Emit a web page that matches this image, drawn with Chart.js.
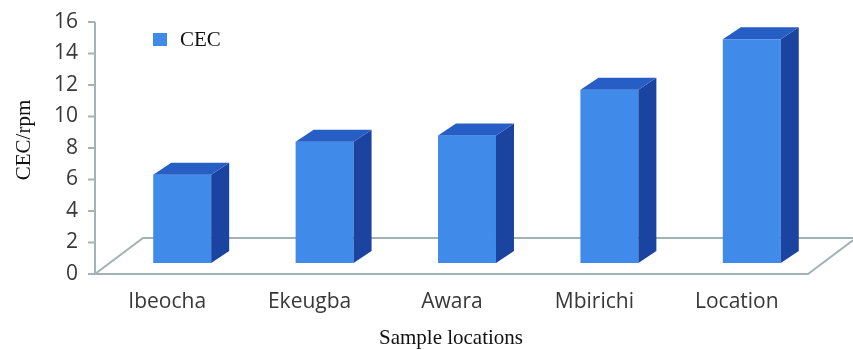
<!DOCTYPE html>
<html>
<head>
<meta charset="utf-8">
<script src="https://cdn.jsdelivr.net/npm/chart.js@4.4.1/dist/chart.umd.min.js"></script>
<style>
  html, body { margin: 0; padding: 0; background: #ffffff; }
  #wrap { width: 853px; height: 350px; position: relative; }
</style>
</head>
<body>
<div id="wrap"><canvas id="c" width="853" height="350"></canvas></div>
<script>
const categories = ['Ibeocha', 'Ekeugba', 'Awara', 'Mbirichi', 'Location'];
const cecValues = [6.3, 8.4, 8.8, 11.7, 14.9];
const seriesName = 'CEC';
const yMin = 0, yMax = 16, yStep = 2;
const xTitle = 'Sample locations';
const yTitle = 'CEC/rpm';

const FRONT = 'rgb(64,138,234)';
const TOP = 'rgb(38,94,198)';
const SIDE = 'rgb(27,68,160)';
const AXIS = '#a3b3b3';

const threeD = {
  id: 'threeD',
  beforeDatasetsDraw(chart) {
    const ctx = chart.ctx;
    const ca = chart.chartArea;
    const ys = chart.scales.y;
    const axisX = ca.left - 16;
    const y0 = ys.getPixelForValue(yMin);
    const frontRight = ca.right - 15;
    const dX = 48, dY = 36;
    ctx.save();
    ctx.strokeStyle = AXIS;
    ctx.lineWidth = 2;
    // floor
    ctx.beginPath();
    ctx.moveTo(axisX, y0);
    ctx.lineTo(frontRight, y0);
    ctx.lineTo(frontRight + dX, y0 - dY);
    ctx.lineTo(axisX + dX, y0 - dY);
    ctx.closePath();
    ctx.stroke();
    // y axis line
    ctx.beginPath();
    ctx.moveTo(axisX, ys.getPixelForValue(yMax));
    ctx.lineTo(axisX, y0);
    ctx.stroke();
    // tick marks
    for (let v = yMin; v <= yMax; v += yStep) {
      const py = ys.getPixelForValue(v);
      ctx.beginPath();
      ctx.moveTo(axisX - 7, py);
      ctx.lineTo(axisX, py);
      ctx.stroke();
    }
    ctx.restore();
  },
  afterDatasetsDraw(chart) {
    const ctx = chart.ctx;
    const meta = chart.getDatasetMeta(0);
    const dx = 18, dy = 12, lift = 11;
    ctx.save();
    meta.data.forEach(bar => {
      const l = bar.x - bar.width / 2;
      const r = bar.x + bar.width / 2;
      const t = bar.y;
      const b = bar.base - lift;
      // front
      ctx.fillStyle = FRONT;
      ctx.fillRect(l, t, r - l, b - t);
      // side
      ctx.fillStyle = SIDE;
      ctx.beginPath();
      ctx.moveTo(r, t);
      ctx.lineTo(r + dx, t - dy);
      ctx.lineTo(r + dx, b - dy);
      ctx.lineTo(r, b);
      ctx.closePath();
      ctx.fill();
      // top
      ctx.fillStyle = TOP;
      ctx.beginPath();
      ctx.moveTo(l, t);
      ctx.lineTo(l + dx, t - dy);
      ctx.lineTo(r + dx, t - dy);
      ctx.lineTo(r, t);
      ctx.closePath();
      ctx.fill();
    });
    // legend
    ctx.fillStyle = FRONT;
    ctx.fillRect(153, 33, 14, 13);
    ctx.fillStyle = '#111';
    ctx.font = '21px "Liberation Serif", "Times New Roman", serif';
    ctx.textBaseline = 'middle';
    ctx.textAlign = 'left';
    ctx.fillText(chart.data.datasets[0].label, 180, 40);
    // axis titles
    ctx.textAlign = 'center';
    ctx.fillText(xTitle, 451, 338);
    ctx.save();
    ctx.translate(24, 140);
    ctx.rotate(-Math.PI / 2);
    ctx.fillText(yTitle, 0, 0);
    ctx.restore();
    ctx.restore();
  }
};

new Chart(document.getElementById('c'), {
  type: 'bar',
  data: {
    labels: categories,
    datasets: [{
      label: seriesName,
      data: cecValues,
      backgroundColor: 'rgba(0,0,0,0)',
      borderWidth: 0,
      barPercentage: 0.407,
      categoryPercentage: 1.0
    }]
  },
  options: {
    responsive: false,
    animation: false,
    events: [],
    layout: { padding: { top: 22, right: 30, left: 0, bottom: 0 } },
    plugins: { legend: { display: false }, tooltip: { enabled: false } },
    scales: {
      x: {
        grid: { display: false, drawTicks: false },
        border: { display: false },
        ticks: {
          color: '#383838',
          font: { family: '"Open Sans"', size: 21 },
          labelOffset: -15,
          padding: 15,
          maxRotation: 0
        },
        afterFit(s) { s.height = 76; s.paddingLeft = 0; s.paddingRight = 0; }
      },
      y: {
        min: yMin, max: yMax,
        grid: { display: false, drawTicks: false },
        border: { display: false },
        ticks: {
          stepSize: yStep,
          color: '#383838',
          font: { family: '"Open Sans"', size: 21 },
          padding: 33
        },
        afterFit(s) { s.width = 111; s.paddingTop = 10; s.paddingBottom = 10; }
      }
    }
  },
  plugins: [threeD]
});
</script>
</body>
</html>
